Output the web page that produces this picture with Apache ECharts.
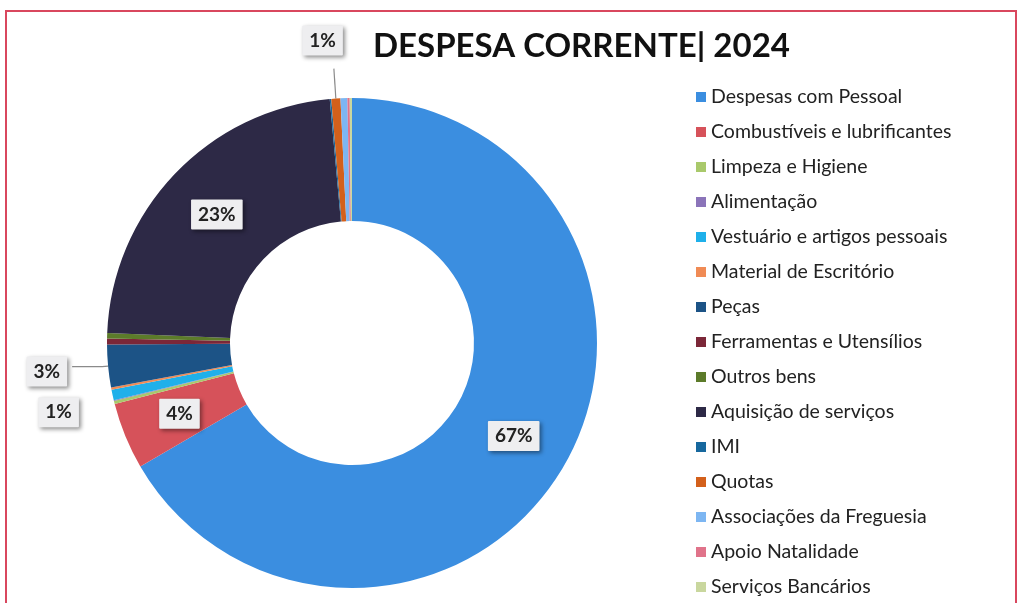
<!DOCTYPE html>
<html>
<head>
<meta charset="utf-8">
<script src="https://cdn.jsdelivr.net/npm/echarts@6/dist/echarts.min.js"></script>
<style>
html,body{margin:0;padding:0;background:#fff;overflow:hidden;}
#frame{position:absolute;left:5px;top:10px;width:1012px;height:620px;border:2px solid #d9475e;box-sizing:border-box;}
#chart{position:absolute;left:0;top:0;width:1022px;height:603px;}
</style>
</head>
<body>
<div id="frame"></div>
<div id="chart"></div>
<script>
const titleText = 'DESPESA CORRENTE| 2024';
const categories = [
  'Despesas com Pessoal','Combustíveis e lubrificantes','Limpeza e Higiene','Alimentação',
  'Vestuário e artigos pessoais','Material de Escritório','Peças','Ferramentas e Utensílios',
  'Outros bens','Aquisição de serviços','IMI','Quotas','Associações da Freguesia',
  'Apoio Natalidade','Serviços Bancários'
];
const values = [66.6, 4.4, 0.2, 0.05, 0.7, 0.15, 2.8, 0.4, 0.35, 22.9, 0.1, 0.6, 0.45, 0.15, 0.15];
const colors = [
  '#3b8ee0','#d6525a','#a9c96b','#8b74b9','#1fb0ea','#f08b55','#1c5386','#7b2738',
  '#5c7b2a','#2d2946','#17689e','#d3601b','#7db6f2','#e0738a','#c9d79e'
];
const labelMode = ['inside','inside','none','none','outsideNoLine','none','outside','none','none','inside','none','outside','none','none','none'];

const boxStyle = {
  backgroundColor:'#eeeef0', padding:[6,7,5,7], fontSize:19, fontWeight:'bold', color:'#222',
  fontFamily:'Lato', shadowColor:'rgba(0,0,0,0.45)', shadowBlur:4, shadowOffsetX:2, shadowOffsetY:2,
  borderRadius:1
};

const data = categories.map((name,i)=>{
  const m = labelMode[i];
  const item = {name, value: values[i], itemStyle:{color: colors[i]}};
  if (m === 'none') {
    item.label = {show:false}; item.labelLine = {show:false};
  } else if (m === 'inside') {
    item.label = Object.assign({show:true, position:'inside'}, boxStyle);
  } else if (m === 'outside') {
    item.label = Object.assign({show:true, position:'outside'}, boxStyle);
    item.labelLine = {show:true, length: i===11 ? 30 : 6, length2: i===11 ? 0 : 30, lineStyle:{color:'#8a8a8a', width:1.2}};
  } else {
    item.label = Object.assign({show:true, position:'outside'}, boxStyle);
    item.labelLine = {show:false, length: 16, length2: 4};
  }
  return item;
});

const chart = echarts.init(document.getElementById('chart'));
chart.setOption({
  animation:false,
  title:{text:titleText, left:368, top:25, textStyle:{fontFamily:'Lato', fontWeight:'bold', fontSize:33, color:'#111'}},
  legend:{
    orient:'vertical', left:696, top:87, padding:0, height:516, itemWidth:10, itemHeight:10, itemGap:15, icon:'rect',
    textStyle:{fontFamily:'Lato', fontSize:19.5, color:'#222', lineHeight:20},
    data: categories
  },
  series:[{
    type:'pie', center:[352,343], radius:[122,245], startAngle:90, clockwise:true,
    avoidLabelOverlap:false, silent:true,
    label:{formatter: p => Math.round(p.percent) + '%'},
    labelLayout: function(p){
      if (p.dataIndex === 11) return {dx: 14, dy: -28};
      if (p.dataIndex === 4) return {dx: -9, dy: 14};
      if (p.dataIndex === 6) return {dy: 5};
      return {};
    },
    data
  }]
});
</script>
</body>
</html>
